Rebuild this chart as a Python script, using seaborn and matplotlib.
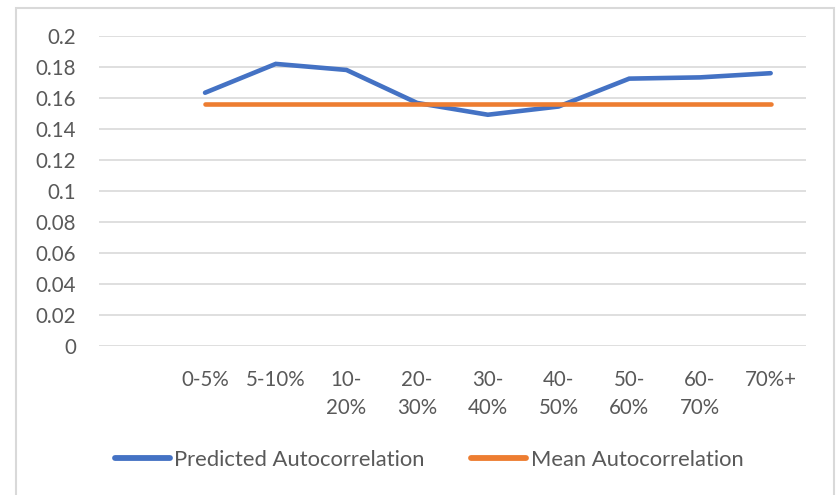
import matplotlib
matplotlib.use("Agg")
import matplotlib.pyplot as plt
from matplotlib.lines import Line2D
from matplotlib.patches import Rectangle
import seaborn as sns
import pandas as pd

# Age-band buckets and autocorrelation values
categories = ["0-5%", "5-10%", "10-\n20%", "20-\n30%", "30-\n40%",
              "40-\n50%", "50-\n60%", "60-\n70%", "70%+"]
predicted = [0.1634, 0.1820, 0.1781, 0.1568, 0.1492, 0.1545, 0.1725, 0.1733, 0.1760]
mean_value = [0.1563] * len(categories)
y_ticks = [0, 0.02, 0.04, 0.06, 0.08, 0.1, 0.12, 0.14, 0.16, 0.18, 0.2]
y_tick_labels = ["0", "0.02", "0.04", "0.06", "0.08", "0.1", "0.12", "0.14", "0.16", "0.18", "0.2"]

series_names = ["Predicted Autocorrelation", "Mean Autocorrelation"]
colors = ["#4472C4", "#ED7D31"]

df = pd.DataFrame({
    "pos": list(range(len(categories))) * 2,
    "value": predicted + mean_value,
    "series": [series_names[0]] * len(categories) + [series_names[1]] * len(categories),
})

sns.set_style("white")
plt.rcParams["font.family"] = ["Lato", "DejaVu Sans"]

fig = plt.figure(figsize=(8.37, 4.95), dpi=100)
ax = fig.add_axes([99 / 837, 1 - 346 / 495, 707 / 837, 310 / 495])

sns.lineplot(data=df, x="pos", y="value", hue="series",
             palette=dict(zip(series_names, colors)), hue_order=series_names,
             linewidth=3.3, ax=ax, legend=False, sort=False, errorbar=None)
for ln in ax.get_lines():
    ln.set_solid_capstyle("round")
    ln.set_solid_joinstyle("miter")

ax.set_xlim(-1.5, len(categories) - 0.5)
ax.set_ylim(0, 0.2)
ax.set_yticks(y_ticks)
ax.set_yticklabels(y_tick_labels)
ax.set_xticks(range(len(categories)))
ax.set_xticklabels(categories, linespacing=1.55, va="top")
ax.tick_params(axis="both", length=0, labelsize=14.8, labelcolor="#595959")
ax.tick_params(axis="y", pad=16.5)
ax.tick_params(axis="x", pad=17)
ax.set_xlabel("")
ax.set_ylabel("")
ax.grid(axis="y", color="#d9d9d9", linewidth=1.2)
ax.set_axisbelow(True)
for s in ax.spines.values():
    s.set_visible(False)

# Chart border
fig.patches.append(Rectangle((16.5 / 837, -0.05), (834.5 - 16.5) / 837, 1 - 7.5 / 495 + 0.05,
                             transform=fig.transFigure, fill=False,
                             edgecolor="#d9d9d9", linewidth=1.5))

handles = [Line2D([0], [0], color=c, linewidth=4.2, solid_capstyle="round") for c in colors]
fig.legend(handles, series_names, loc="center", bbox_to_anchor=(429 / 837, 1 - 460 / 495),
           ncol=2, frameon=False, fontsize=15.8, labelcolor="#595959",
           handlelength=2.5, handletextpad=0.22, columnspacing=2.1)

fig.savefig("out.png", dpi=100, facecolor="white")
